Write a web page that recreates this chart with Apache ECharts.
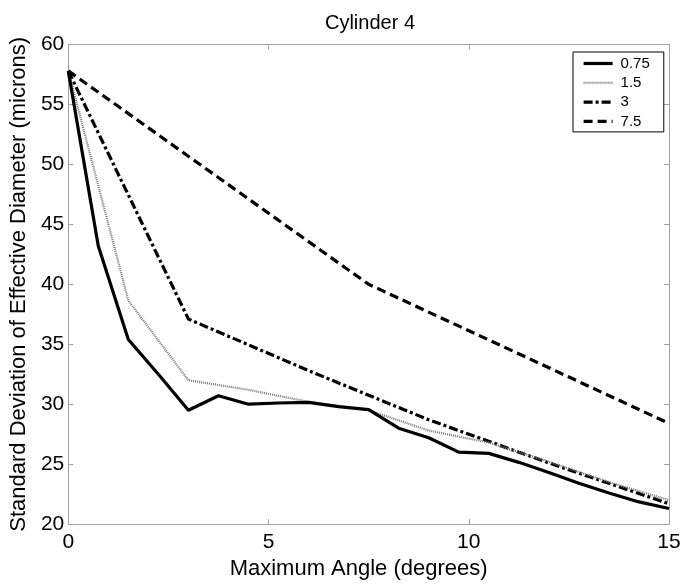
<!DOCTYPE html>
<html>
<head>
<meta charset="utf-8">
<script src="https://cdn.jsdelivr.net/npm/echarts@6/dist/echarts.min.js"></script>
<style>
html,body{margin:0;padding:0;background:#fff;}
#chart{width:697px;height:585px;}
</style>
</head>
<body>
<div id="chart"></div>
<script>
var titleText = 'Cylinder 4';
var xName = 'Maximum Angle (degrees)';
var yName = 'Standard Deviation of Effective Diameter (microns)';
var seriesNames = ['0.75', '1.5', '3', '7.5'];

var x075 = [0, 0.75, 1.5, 2.25, 3, 3.75, 4.5, 5.25, 6, 6.75, 7.5, 8.25, 9, 9.75, 10.5, 11.25, 12, 12.75, 13.5, 14.25, 15];
var y075 = [57.8, 43.2, 35.4, 32.5, 29.5, 30.7, 30.0, 30.1, 30.15, 29.8, 29.55, 28.0, 27.2, 26.0, 25.9, 25.15, 24.3, 23.4, 22.6, 21.85, 21.3];

var x15 = [0, 1.5, 3, 4.5, 6, 7.5, 9, 10.5, 12, 13.5, 15];
var y15 = [57.8, 38.65, 32.0, 31.2, 30.2, 29.5, 27.8, 26.8, 25.2, 23.5, 22.0];

var x3 = [0, 3, 6, 9, 12, 15];
var y3 = [57.8, 37.1, 32.8, 28.7, 25.1, 21.7];

var x75 = [0, 7.5, 15];
var y75 = [57.8, 40.0, 28.4];

var xTicks = [0, 5, 10, 15];
var yTicks = [20, 25, 30, 35, 40, 45, 50, 55, 60];

function pairs(xs, ys) { return xs.map(function (x, i) { return [x, ys[i]]; }); }

var FONT = 'Liberation Sans, Arial, Helvetica, sans-serif';
var FRAME = '#a0a0a0';

var chart = echarts.init(document.getElementById('chart'), null, {renderer: 'canvas'});

function mkX(pos, main) {
  return {
    type: 'value', position: pos, min: xTicks[0], max: xTicks[xTicks.length - 1], interval: 5,
    name: main ? xName : '', nameLocation: 'middle', nameGap: 30,
    nameTextStyle: {fontFamily: FONT, fontSize: 22, color: '#000', padding: [0, 20, 0, 0]},
    axisLine: {show: true, onZero: false, lineStyle: {color: FRAME, width: 1}},
    axisTick: {show: true, inside: true, length: 5, lineStyle: {color: FRAME}},
    axisLabel: {show: main, fontFamily: FONT, fontSize: 21, color: '#000', margin: 8},
    splitLine: {show: false}
  };
}
function mkY(pos, main) {
  return {
    type: 'value', position: pos, min: yTicks[0], max: yTicks[yTicks.length - 1], interval: 5,
    name: main ? yName : '', nameLocation: 'middle', nameGap: 30,
    nameTextStyle: {fontFamily: FONT, fontSize: 22, color: '#000'},
    axisLine: {show: true, onZero: false, lineStyle: {color: FRAME, width: 1}},
    axisTick: {show: true, inside: true, length: 5, lineStyle: {color: FRAME}},
    axisLabel: {show: main, fontFamily: FONT, fontSize: 21, color: '#000', margin: 4},
    splitLine: {show: false}
  };
}

var styles = [
  {color: '#000', width: 3.2, type: 'solid'},
  {color: '#777', width: 2.2, type: [1, 1]},
  {color: '#000', width: 3.2, type: [9, 3, 3, 3]},
  {color: '#000', width: 3.2, type: [9, 5]}
];
var datas = [pairs(x075, y075), pairs(x15, y15), pairs(x3, y3), pairs(x75, y75)];

var series = seriesNames.map(function (n, i) {
  return {
    name: n, type: 'line', data: datas[i], showSymbol: false, symbol: 'none',
    lineStyle: styles[i], itemStyle: {color: styles[i].color},
    z: 10 - i, animation: false
  };
});

var legendData = seriesNames.map(function (n, i) {
  return {name: n, lineStyle: {color: styles[i].color, width: styles[i].width, type: styles[i].type}};
});

chart.setOption({
  backgroundColor: '#fff',
  animation: false,
  title: {
    text: titleText, left: 365, top: 8, textAlign: 'center',
    textStyle: {fontFamily: FONT, fontSize: 20, fontWeight: 'normal', color: '#000'}
  },
  grid: {left: 64.5, top: 44.5, right: 28, bottom: 56, containLabel: false},
  legend: {
    orient: 'vertical', left: 573, top: 52,
    data: legendData,
    itemWidth: 29, itemHeight: 14, itemGap: 4.3,
    padding: [4, 14, 3, 9],
    borderColor: '#000', borderWidth: 1, backgroundColor: '#fff',
    itemStyle: {opacity: 0, borderWidth: 0},
    textStyle: {fontFamily: FONT, fontSize: 15, color: '#000', padding: [0, 0, 0, 3]}
  },
  xAxis: [mkX('bottom', true), mkX('top', false)],
  yAxis: [mkY('left', true), mkY('right', false)],
  series: series
});
</script>
</body>
</html>
